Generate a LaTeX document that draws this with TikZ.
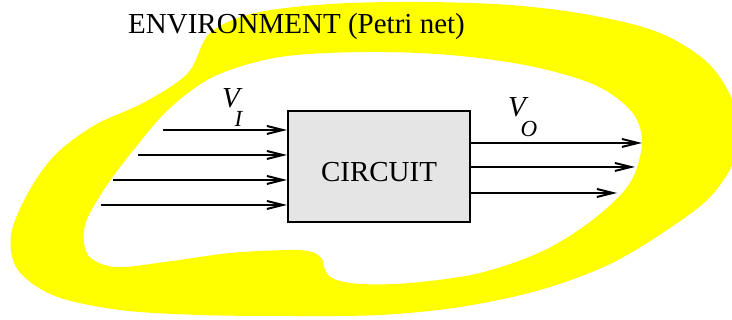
\documentclass[tikz,border=0pt]{standalone}
\usepackage{fontspec}
\setmainfont{Liberation Serif}
\usetikzlibrary{arrows.meta,positioning}
\definecolor{envyellow}{RGB}{255,255,0}
\definecolor{boxgray}{RGB}{229,229,229}

\begin{document}
\begin{tikzpicture}[x=1pt, y=-1pt,
    box/.style={draw, line width=2pt, fill=boxgray, minimum width=182pt, minimum height=111pt, text height=30pt, font=\fontsize{29}{34}\selectfont},
    sig/.style={-{Straight Barb[length=16pt, width=8pt]}, line width=2pt},
    lbl/.style={anchor=base west, inner sep=0pt, font=\fontsize{29}{34}\selectfont}]
    \useasboundingbox (0,0) rectangle (732,320);
    % Environment (yellow ring)
    \fill[envyellow, even odd rule]
      plot[smooth cycle, tension=0.55] coordinates {(210,33) (255,13) (330,4) (420,2) (510,5) (590,15) (660,33) (710,65) (736,110) (736,155) (712,195) (670,228) (610,264) (540,290) (460,307) (380,315) (290,316) (200,315) (120,310) (55,296) (18,270) (11,235) (28,193) (55,155) (95,125) (145,102) (188,73)}
      plot[smooth cycle, tension=0.55] coordinates {(366,52) (450,55) (530,66) (595,85) (632,112) (642,143) (630,183) (595,218) (545,250) (480,273) (410,283) (360,284) (334,279) (325,270) (322,259) (312,252) (290,250) (230,253) (165,262) (115,267) (88,255) (85,225) (105,188) (135,148) (170,108) (215,76) (280,57)};
    \node[lbl] (title) at (128,34) {ENVIRONMENT (Petri net)};
    % Circuit
    \node[box] (circ) at (379,167) {CIRCUIT};
    % Input signals
    \coordinate (in1) at (163,130);
    \coordinate (in2) at (138,155);
    \coordinate (in3) at (113,180);
    \coordinate (in4) at (101,205);
    \foreach \i in {1,...,4}
      \draw[sig] (in\i) -- (in\i -| circ.west);
    \node[lbl] (vin) at (222,108) {\textit{V}\kern-8pt\raisebox{-19pt}{\fontsize{23}{23}\selectfont\textit{I}}};
    % Output signals
    \coordinate (out1) at (642,143);
    \coordinate (out2) at (635,167);
    \coordinate (out3) at (617,193);
    \foreach \i in {1,...,3}
      \draw[sig] (circ.east |- out\i) -- (out\i);
    \node[lbl] (vout) at (508,117) {\textit{V}\kern-8pt\raisebox{-20pt}{\fontsize{23}{23}\selectfont\textit{O}}};
\end{tikzpicture}
\end{document}
